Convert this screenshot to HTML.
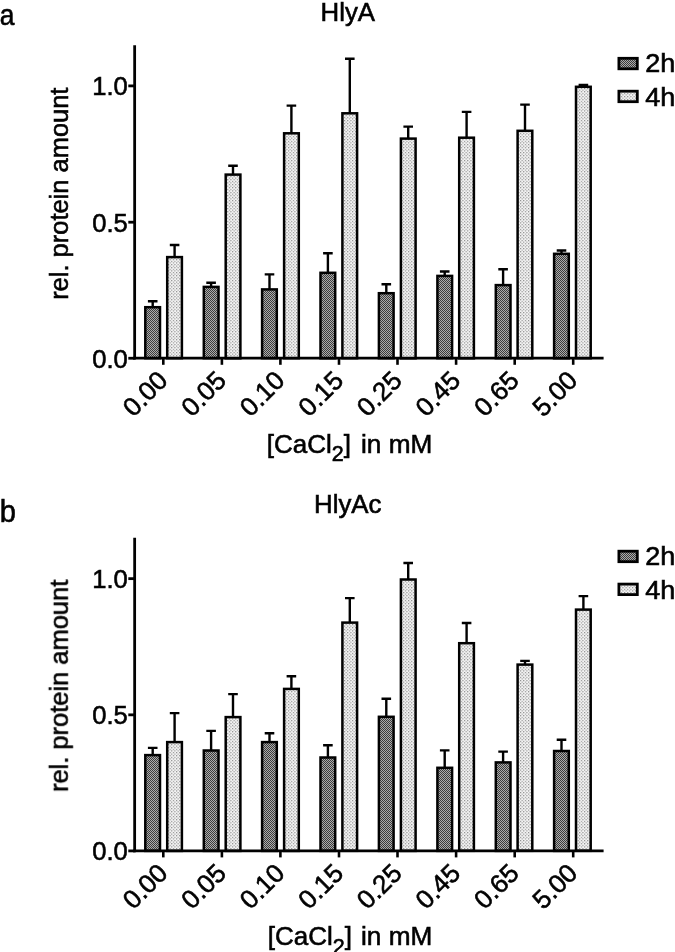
<!DOCTYPE html>
<html><head><meta charset="utf-8"><title>HlyA</title>
<style>
html,body{margin:0;padding:0;background:#fff;}
svg{display:block;}
text{font-family:"Liberation Sans",sans-serif;fill:#000;stroke:#000;stroke-width:0.6px;}
</style></head>
<body>
<svg width="675" height="952" viewBox="0 0 675 952">
<defs>
<pattern id="pd" width="2" height="2" patternUnits="userSpaceOnUse">
<rect width="2" height="2" fill="#acacac"/><rect width="1" height="1" fill="#3c3c3c"/><rect x="1" y="1" width="1" height="1" fill="#3c3c3c"/>
</pattern>
<pattern id="pl" width="3.2" height="3.2" patternUnits="userSpaceOnUse">
<rect width="3.2" height="3.2" fill="#f4f4f4"/><rect width="1.1" height="1.1" fill="#828282"/><rect x="1.6" y="1.6" width="1.1" height="1.1" fill="#828282"/>
</pattern>
</defs>
<rect width="675" height="952" fill="#fff"/>
<g opacity="0.999">
<path d="M152.7 307.0V301.3M147.9 301.3H157.5" stroke="#000" stroke-width="2.4" fill="none"/>
<rect x="145.3" y="307.2" width="14.7" height="51.0" fill="url(#pd)" stroke="#000" stroke-width="2.5"/>
<path d="M174.6 256.9V245.0M169.8 245.0H179.4" stroke="#000" stroke-width="2.4" fill="none"/>
<rect x="167.2" y="257.1" width="14.7" height="101.1" fill="url(#pl)" stroke="#000" stroke-width="2.5"/>
<path d="M211.1 286.7V282.7M206.3 282.7H215.9" stroke="#000" stroke-width="2.4" fill="none"/>
<rect x="203.8" y="286.9" width="14.7" height="71.3" fill="url(#pd)" stroke="#000" stroke-width="2.5"/>
<path d="M233.0 174.3V165.8M228.2 165.8H237.8" stroke="#000" stroke-width="2.4" fill="none"/>
<rect x="225.7" y="174.6" width="14.7" height="183.7" fill="url(#pl)" stroke="#000" stroke-width="2.5"/>
<path d="M269.5 289.2V274.4M264.7 274.4H274.3" stroke="#000" stroke-width="2.4" fill="none"/>
<rect x="262.1" y="289.4" width="14.7" height="68.8" fill="url(#pd)" stroke="#000" stroke-width="2.5"/>
<path d="M291.4 133.1V105.6M286.6 105.6H296.2" stroke="#000" stroke-width="2.4" fill="none"/>
<rect x="284.1" y="133.3" width="14.7" height="224.9" fill="url(#pl)" stroke="#000" stroke-width="2.5"/>
<path d="M327.9 272.5V253.2M323.1 253.2H332.7" stroke="#000" stroke-width="2.4" fill="none"/>
<rect x="320.5" y="272.8" width="14.7" height="85.5" fill="url(#pd)" stroke="#000" stroke-width="2.5"/>
<path d="M349.8 113.1V58.8M345.0 58.8H354.6" stroke="#000" stroke-width="2.4" fill="none"/>
<rect x="342.4" y="113.3" width="14.7" height="244.9" fill="url(#pl)" stroke="#000" stroke-width="2.5"/>
<path d="M386.3 293.0V284.2M381.5 284.2H391.1" stroke="#000" stroke-width="2.4" fill="none"/>
<rect x="378.9" y="293.2" width="14.7" height="65.0" fill="url(#pd)" stroke="#000" stroke-width="2.5"/>
<path d="M408.2 138.3V126.6M403.4 126.6H413.0" stroke="#000" stroke-width="2.4" fill="none"/>
<rect x="400.9" y="138.6" width="14.7" height="219.7" fill="url(#pl)" stroke="#000" stroke-width="2.5"/>
<path d="M444.7 275.7V271.5M439.9 271.5H449.5" stroke="#000" stroke-width="2.4" fill="none"/>
<rect x="437.4" y="275.9" width="14.7" height="82.3" fill="url(#pd)" stroke="#000" stroke-width="2.5"/>
<path d="M466.6 137.4V111.9M461.8 111.9H471.4" stroke="#000" stroke-width="2.4" fill="none"/>
<rect x="459.2" y="137.7" width="14.7" height="220.6" fill="url(#pl)" stroke="#000" stroke-width="2.5"/>
<path d="M503.1 284.9V269.2M498.3 269.2H507.9" stroke="#000" stroke-width="2.4" fill="none"/>
<rect x="495.8" y="285.1" width="14.7" height="73.1" fill="url(#pd)" stroke="#000" stroke-width="2.5"/>
<path d="M525.0 130.6V104.6M520.2 104.6H529.8" stroke="#000" stroke-width="2.4" fill="none"/>
<rect x="517.6" y="130.8" width="14.7" height="227.4" fill="url(#pl)" stroke="#000" stroke-width="2.5"/>
<path d="M561.5 253.5V250.5M556.7 250.5H566.3" stroke="#000" stroke-width="2.4" fill="none"/>
<rect x="554.1" y="253.8" width="14.7" height="104.5" fill="url(#pd)" stroke="#000" stroke-width="2.5"/>
<path d="M583.4 86.6V85.0M578.6 85.0H588.2" stroke="#000" stroke-width="2.4" fill="none"/>
<rect x="576.0" y="86.8" width="14.7" height="271.4" fill="url(#pl)" stroke="#000" stroke-width="2.5"/>
<path d="M134.65 45.3V359.6" stroke="#000" stroke-width="2.8"/>
<path d="M133.25 358.2H603.6" stroke="#000" stroke-width="2.7"/>
<path d="M128.3 85.90H134.65" stroke="#000" stroke-width="2.8"/>
<text transform="translate(127.8 95.30) scale(0.965 1)" text-anchor="end" font-size="26.5">1.0</text>
<path d="M128.3 222.20H134.65" stroke="#000" stroke-width="2.8"/>
<text transform="translate(127.8 232.10) scale(0.965 1)" text-anchor="end" font-size="26.5">0.5</text>
<path d="M128.3 358.25H134.65" stroke="#000" stroke-width="2.8"/>
<text transform="translate(127.8 367.60) scale(0.965 1)" text-anchor="end" font-size="26.5">0.0</text>
<path d="M163.3 358.2V364.8" stroke="#000" stroke-width="2.6"/>
<text transform="translate(169.2 382.1) rotate(-45)" text-anchor="end" font-size="26" stroke="none">0.00</text>
<path d="M221.9 358.2V364.8" stroke="#000" stroke-width="2.6"/>
<text transform="translate(227.8 382.1) rotate(-45)" text-anchor="end" font-size="26" stroke="none">0.05</text>
<path d="M280.4 358.2V364.8" stroke="#000" stroke-width="2.6"/>
<text transform="translate(286.3 382.1) rotate(-45)" text-anchor="end" font-size="26" stroke="none">0.10</text>
<path d="M339.0 358.2V364.8" stroke="#000" stroke-width="2.6"/>
<text transform="translate(344.9 382.1) rotate(-45)" text-anchor="end" font-size="26" stroke="none">0.15</text>
<path d="M397.5 358.2V364.8" stroke="#000" stroke-width="2.6"/>
<text transform="translate(403.4 382.1) rotate(-45)" text-anchor="end" font-size="26" stroke="none">0.25</text>
<path d="M456.1 358.2V364.8" stroke="#000" stroke-width="2.6"/>
<text transform="translate(462.0 382.1) rotate(-45)" text-anchor="end" font-size="26" stroke="none">0.45</text>
<path d="M514.7 358.2V364.8" stroke="#000" stroke-width="2.6"/>
<text transform="translate(520.6 382.1) rotate(-45)" text-anchor="end" font-size="26" stroke="none">0.65</text>
<path d="M573.2 358.2V364.8" stroke="#000" stroke-width="2.6"/>
<text transform="translate(579.1 382.1) rotate(-45)" text-anchor="end" font-size="26" stroke="none">5.00</text>
<text transform="translate(67.6 193.7) rotate(-90) scale(1.003 0.99)" text-anchor="middle" font-size="25.4" stroke-width="0.4">rel. protein amount</text>
<text x="347.8" y="20.6" text-anchor="middle" font-size="25.8">HlyA</text>
<text transform="translate(-0.2 24.8) scale(0.88 1)" font-size="30" stroke="none">a</text>
<text x="266.8" y="452.7" font-size="26">[CaCl<tspan dy="8.6" font-size="21.5">2</tspan><tspan dy="-8.6" font-size="26">]</tspan></text>
<text x="432.3" y="452.7" text-anchor="end" font-size="26.2">in mM</text>
<rect x="618.9" y="58.3" width="18.4" height="10.5" fill="url(#pd)" stroke="#000" stroke-width="2.8"/>
<text x="645.2" y="72.2" font-size="25" textLength="30" lengthAdjust="spacingAndGlyphs">2h</text>
<rect x="618.9" y="91.2" width="18.4" height="10.5" fill="url(#pl)" stroke="#000" stroke-width="2.8"/>
<text x="645.2" y="105.8" font-size="25" textLength="30" lengthAdjust="spacingAndGlyphs">4h</text>
<path d="M152.7 754.9V747.9M147.9 747.9H157.5" stroke="#000" stroke-width="2.4" fill="none"/>
<rect x="145.3" y="755.1" width="14.7" height="95.8" fill="url(#pd)" stroke="#000" stroke-width="2.5"/>
<path d="M174.6 741.9V713.1M169.8 713.1H179.4" stroke="#000" stroke-width="2.4" fill="none"/>
<rect x="167.2" y="742.1" width="14.7" height="108.8" fill="url(#pl)" stroke="#000" stroke-width="2.5"/>
<path d="M211.1 750.2V730.9M206.3 730.9H215.9" stroke="#000" stroke-width="2.4" fill="none"/>
<rect x="203.8" y="750.5" width="14.7" height="100.4" fill="url(#pd)" stroke="#000" stroke-width="2.5"/>
<path d="M233.0 716.9V694.1M228.2 694.1H237.8" stroke="#000" stroke-width="2.4" fill="none"/>
<rect x="225.7" y="717.1" width="14.7" height="133.8" fill="url(#pl)" stroke="#000" stroke-width="2.5"/>
<path d="M269.5 741.9V733.2M264.7 733.2H274.3" stroke="#000" stroke-width="2.4" fill="none"/>
<rect x="262.1" y="742.1" width="14.7" height="108.8" fill="url(#pd)" stroke="#000" stroke-width="2.5"/>
<path d="M291.4 688.6V676.3M286.6 676.3H296.2" stroke="#000" stroke-width="2.4" fill="none"/>
<rect x="284.1" y="688.9" width="14.7" height="162.0" fill="url(#pl)" stroke="#000" stroke-width="2.5"/>
<path d="M327.9 757.3V745.3M323.1 745.3H332.7" stroke="#000" stroke-width="2.4" fill="none"/>
<rect x="320.5" y="757.5" width="14.7" height="93.4" fill="url(#pd)" stroke="#000" stroke-width="2.5"/>
<path d="M349.8 622.4V598.1M345.0 598.1H354.6" stroke="#000" stroke-width="2.4" fill="none"/>
<rect x="342.4" y="622.6" width="14.7" height="228.2" fill="url(#pl)" stroke="#000" stroke-width="2.5"/>
<path d="M386.3 716.5V698.7M381.5 698.7H391.1" stroke="#000" stroke-width="2.4" fill="none"/>
<rect x="378.9" y="716.8" width="14.7" height="134.1" fill="url(#pd)" stroke="#000" stroke-width="2.5"/>
<path d="M408.2 579.3V563.0M403.4 563.0H413.0" stroke="#000" stroke-width="2.4" fill="none"/>
<rect x="400.9" y="579.5" width="14.7" height="271.4" fill="url(#pl)" stroke="#000" stroke-width="2.5"/>
<path d="M444.7 767.5V750.4M439.9 750.4H449.5" stroke="#000" stroke-width="2.4" fill="none"/>
<rect x="437.4" y="767.8" width="14.7" height="83.1" fill="url(#pd)" stroke="#000" stroke-width="2.5"/>
<path d="M466.6 643.0V623.0M461.8 623.0H471.4" stroke="#000" stroke-width="2.4" fill="none"/>
<rect x="459.2" y="643.2" width="14.7" height="207.6" fill="url(#pl)" stroke="#000" stroke-width="2.5"/>
<path d="M503.1 762.1V751.6M498.3 751.6H507.9" stroke="#000" stroke-width="2.4" fill="none"/>
<rect x="495.8" y="762.4" width="14.7" height="88.5" fill="url(#pd)" stroke="#000" stroke-width="2.5"/>
<path d="M525.0 664.4V660.9M520.2 660.9H529.8" stroke="#000" stroke-width="2.4" fill="none"/>
<rect x="517.6" y="664.6" width="14.7" height="186.2" fill="url(#pl)" stroke="#000" stroke-width="2.5"/>
<path d="M561.5 750.8V739.8M556.7 739.8H566.3" stroke="#000" stroke-width="2.4" fill="none"/>
<rect x="554.1" y="751.0" width="14.7" height="99.9" fill="url(#pd)" stroke="#000" stroke-width="2.5"/>
<path d="M583.4 609.4V596.1M578.6 596.1H588.2" stroke="#000" stroke-width="2.4" fill="none"/>
<rect x="576.0" y="609.6" width="14.7" height="241.2" fill="url(#pl)" stroke="#000" stroke-width="2.5"/>
<path d="M134.65 537.8V852.2" stroke="#000" stroke-width="2.8"/>
<path d="M133.25 850.9H603.6" stroke="#000" stroke-width="2.7"/>
<path d="M128.3 578.65H134.65" stroke="#000" stroke-width="2.8"/>
<text transform="translate(127.8 588.15) scale(0.965 1)" text-anchor="end" font-size="26.5">1.0</text>
<path d="M128.3 714.85H134.65" stroke="#000" stroke-width="2.8"/>
<text transform="translate(127.8 723.85) scale(0.965 1)" text-anchor="end" font-size="26.5">0.5</text>
<path d="M128.3 850.90H134.65" stroke="#000" stroke-width="2.8"/>
<text transform="translate(127.8 860.20) scale(0.965 1)" text-anchor="end" font-size="26.5">0.0</text>
<path d="M163.3 850.9V857.4" stroke="#000" stroke-width="2.6"/>
<text transform="translate(169.2 874.7) rotate(-45)" text-anchor="end" font-size="26" stroke="none">0.00</text>
<path d="M221.9 850.9V857.4" stroke="#000" stroke-width="2.6"/>
<text transform="translate(227.8 874.7) rotate(-45)" text-anchor="end" font-size="26" stroke="none">0.05</text>
<path d="M280.4 850.9V857.4" stroke="#000" stroke-width="2.6"/>
<text transform="translate(286.3 874.7) rotate(-45)" text-anchor="end" font-size="26" stroke="none">0.10</text>
<path d="M339.0 850.9V857.4" stroke="#000" stroke-width="2.6"/>
<text transform="translate(344.9 874.7) rotate(-45)" text-anchor="end" font-size="26" stroke="none">0.15</text>
<path d="M397.5 850.9V857.4" stroke="#000" stroke-width="2.6"/>
<text transform="translate(403.4 874.7) rotate(-45)" text-anchor="end" font-size="26" stroke="none">0.25</text>
<path d="M456.1 850.9V857.4" stroke="#000" stroke-width="2.6"/>
<text transform="translate(462.0 874.7) rotate(-45)" text-anchor="end" font-size="26" stroke="none">0.45</text>
<path d="M514.7 850.9V857.4" stroke="#000" stroke-width="2.6"/>
<text transform="translate(520.6 874.7) rotate(-45)" text-anchor="end" font-size="26" stroke="none">0.65</text>
<path d="M573.2 850.9V857.4" stroke="#000" stroke-width="2.6"/>
<text transform="translate(579.1 874.7) rotate(-45)" text-anchor="end" font-size="26" stroke="none">5.00</text>
<text transform="translate(67.6 685.9) rotate(-90) scale(1.003 0.99)" text-anchor="middle" font-size="25.4" stroke-width="0.4">rel. protein amount</text>
<text x="347.8" y="513.0" text-anchor="middle" font-size="25.8">HlyAc</text>
<text transform="translate(-0.3 522) scale(0.91 1)" font-size="32" stroke="none">b</text>
<text x="267.8" y="945.1" font-size="26">[CaCl<tspan dy="8.6" font-size="21.5">2</tspan><tspan dy="-8.6" font-size="26">]</tspan></text>
<text x="432.3" y="945.1" text-anchor="end" font-size="26.2">in mM</text>
<rect x="618.9" y="551.2" width="18.4" height="10.5" fill="url(#pd)" stroke="#000" stroke-width="2.8"/>
<text x="645.2" y="565.1" font-size="25" textLength="30" lengthAdjust="spacingAndGlyphs">2h</text>
<rect x="618.9" y="584.1" width="18.4" height="10.5" fill="url(#pl)" stroke="#000" stroke-width="2.8"/>
<text x="645.2" y="598.7" font-size="25" textLength="30" lengthAdjust="spacingAndGlyphs">4h</text>
</g>
</svg>
</body></html>
